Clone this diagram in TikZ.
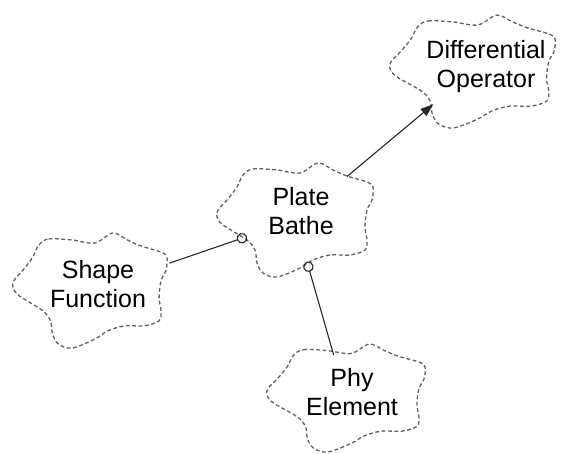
\documentclass[tikz,border=0pt]{standalone}
\usepackage{fontspec}
\setmainfont{Liberation Sans}
\usetikzlibrary{arrows.meta,shapes.geometric}

% outline of a Booch class icon, centred on (0,0), 156 x 114 units
\newcommand\boochoutline{%
  plot[smooth cycle, tension=0.55] coordinates {
    (-52,-45) (-42,-51) (-18,-50) (5,-47) (23,-57) (38,-50) (52,-44)
    (72,-38) (78,-33) (77,-20) (72,-10) (70,7) (72,20) (70,30)
    (55,35) (35,35) (18,40) (5,48) (-18,57) (-32,53) (-38,43)
    (-40,30) (-48,20) (-72,5) (-78,-3) (-77,-10) (-68,-20) (-58,-33)
  }}

\begin{document}
\begin{tikzpicture}[x=1pt, y=-1pt,
    classarea/.style={ellipse, draw=none, inner sep=0pt, outer sep=0pt,
      minimum width=156pt, minimum height=114pt},
    cloudline/.style={draw=black!62, line width=1.3pt,
      dash pattern=on 3.8pt off 2.6pt, line join=round},
    classname/.style={align=center, inner sep=0pt, text=black,
      font=\fontsize{25}{29}\selectfont},
    assoc/.style={draw=black!85, line width=1.1pt},
    usesend/.style={-{Circle[open, length=10.5pt, width=10.5pt, line width=1.1pt]}},
    inherit/.style={-{Triangle[length=13pt, width=9pt]}}]
  \useasboundingbox (0,0) rectangle (561,454);

  % class areas
  \node[classarea] (pb) at (295,220) {};
  \node[classarea] (do) at (472.5,71.5) {};
  \node[classarea] (sf) at (90,290.5) {};
  \node[classarea] (pe) at (346,398) {};

  % dashed class clouds
  \draw[cloudline, shift={(pb.center)}] \boochoutline;
  \draw[cloudline, shift={(do.center)}, xscale=1.058, yscale=0.99] \boochoutline;
  \draw[cloudline, shift={(sf.center)}, xscale=0.987, yscale=1.01] \boochoutline;
  \draw[cloudline, shift={(pe.center)}, xscale=1.013, yscale=0.947] \boochoutline;

  % class names
  \node[classname] (pbt) at (301,211) {Plate\\Bathe};
  \node[classname] (dot) at (486,66.5) {Differential\\Operator};
  \node[classname] (sft) at (98,284) {Shape\\Function};
  \node[classname] (pet) at (352,392) {Phy\\Element};

  % relationships
  \draw[assoc, inherit, shorten <=67.8pt, shorten >=51pt] (pb.center) -- (do.center);
  \draw[assoc, usesend, shorten <=84pt, shorten >=50.8pt] (sf.center) -- (pb.center);
  \draw[assoc, usesend, shorten <=44.7pt, shorten >=43.4pt] (pe.center) -- (pb.center);
\end{tikzpicture}
\end{document}
